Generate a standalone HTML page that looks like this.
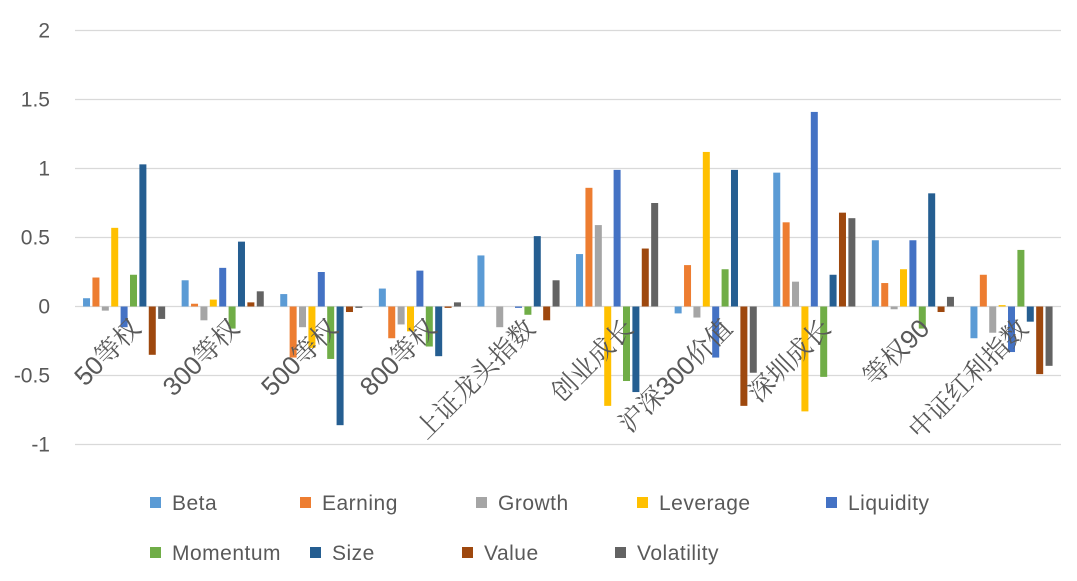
<!DOCTYPE html>
<html><head><meta charset="utf-8"><style>
body{margin:0;background:#fff;}
svg text{font-family:"Liberation Sans","Noto Sans CJK SC",sans-serif;fill:#595959;}
svg text.cat{font-family:"Liberation Sans","Noto Serif CJK SC",serif;}
</style></head><body>
<svg id="chart" width="1077" height="576" xmlns="http://www.w3.org/2000/svg">
<g id="grid"></g><g id="bars"></g><g id="xlabels"></g><g id="legend"></g>
</svg>
<script>
const categories=["50等权","300等权","500等权","800等权","上证龙头指数","创业成长","沪深300价值","深圳成长","等权90","中证红利指数"];
const seriesNames=["Beta","Earning","Growth","Leverage","Liquidity","Momentum","Size","Value","Volatility"];
const colors=["#5B9BD5","#ED7D31","#A5A5A5","#FFC000","#4472C4","#70AD47","#255E91","#9E480E","#636363"];
const beta=[0.06,0.19,0.09,0.13,0.37,0.38,-0.05,0.97,0.48,-0.23];
const earning=[0.21,0.02,-0.37,-0.23,0,0.86,0.30,0.61,0.17,0.23];
const growth=[-0.03,-0.10,-0.15,-0.13,-0.15,0.59,-0.08,0.18,-0.02,-0.19];
const leverage=[0.57,0.05,-0.30,-0.18,0,-0.72,1.12,-0.76,0.27,0.01];
const liquidity=[-0.15,0.28,0.25,0.26,-0.01,0.99,-0.37,1.41,0.48,-0.33];
const momentum=[0.23,-0.16,-0.38,-0.29,-0.06,-0.54,0.27,-0.51,-0.16,0.41];
const size=[1.03,0.47,-0.86,-0.36,0.51,-0.62,0.99,0.23,0.82,-0.11];
const value=[-0.35,0.03,-0.04,-0.01,-0.10,0.42,-0.72,0.68,-0.04,-0.49];
const volatility=[-0.09,0.11,-0.01,0.03,0.19,0.75,-0.48,0.64,0.07,-0.43];
const yTicks=[2,1.5,1,0.5,0,-0.5,-1];
const series=[beta,earning,growth,leverage,liquidity,momentum,size,value,volatility];
const NS="http://www.w3.org/2000/svg";
const x0=75,x1=1061,gw=(x1-x0)/categories.length,step=gw/10.5,bw=7;
function y(v){return 306.5-v*138;}
function mk(t,a,p){const e=document.createElementNS(NS,t);for(const k in a)e.setAttribute(k,a[k]);p.appendChild(e);return e;}
const grid=document.getElementById('grid');
yTicks.forEach(t=>{
  const l=mk('line',{x1:x0,x2:x1,y1:y(t),y2:y(t),stroke:'#d9d9d9','stroke-width':1.3},grid);
  
  
  const tx=mk('text',{x:50,y:y(t)+7,'text-anchor':'end','font-size':21},grid);
  tx.textContent=t;
  
  
});
const bars=document.getElementById('bars');
categories.forEach((c,i)=>{
  series.forEach((s,j)=>{
    const v=s[i];const bx=x0+i*gw+0.75*step+j*step+1;
    const r=mk('rect',{x:bx,y:Math.min(y(v),y(0)),width:bw,height:Math.abs(y(v)-y(0)),fill:colors[j]},bars);
    
    
  });
  const cx=x0+i*gw+gw/2+18;
  const t=mk('text',{x:cx,y:330,'text-anchor':'end','font-size':26,class:'cat',transform:`rotate(-45 ${cx} 330)`},document.getElementById('xlabels'));
  t.textContent=c;
  
  
});
const legPos=[[150,502],[300,502],[476,502],[637,502],[826,502],[150,552],[310,552],[462,552],[615,552]];
const leg=document.getElementById('legend');
seriesNames.forEach((n,j)=>{
  const g=mk('g',{},leg);
  
  
  mk('rect',{x:legPos[j][0],y:legPos[j][1]-5,width:11,height:11,fill:colors[j]},g);
  const t=mk('text',{x:legPos[j][0]+22,y:legPos[j][1]+8,'font-size':21,'letter-spacing':0.5},g);
  t.textContent=n;
});
</script>
</body></html>
